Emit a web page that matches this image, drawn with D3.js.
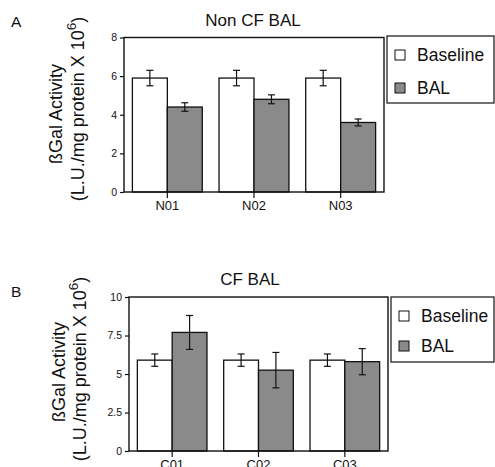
<!DOCTYPE html>
<html>
<head>
<meta charset="utf-8">
<script src="https://cdn.jsdelivr.net/npm/d3@7"></script>
<style>
  body { margin: 0; background: #fff; }
  text { font-family: "Liberation Sans", Arial, sans-serif; fill: #111; }
</style>
</head>
<body>
<div id="chart"></div>
<script>
// chart values
let seriesNames = ["Baseline", "BAL"];

let groupsA = ["N01", "N02", "N03"];
let baselineA = [5.9, 5.9, 5.9];
let baselineErrA = [0.4, 0.4, 0.4];
let balA = [4.4, 4.8, 3.6];
let balErrA = [0.22, 0.23, 0.18];
let ticksA = [0, 2, 4, 6, 8];

let groupsB = ["C01", "C02", "C03"];
let baselineB = [5.9, 5.9, 5.9];
let baselineErrB = [0.4, 0.4, 0.4];
let balB = [7.7, 5.25, 5.8];
let balErrB = [1.1, 1.15, 0.85];
let ticksB = [0, 2.5, 5, 7.5, 10];
let tickLabelsB = ["0", "2.5", "5", "7.5", "10"];

let colors = ["#ffffff", "#8a8a8a"];

let svgWidth = 495;
let svgHeight = 467;

let svg = d3.select("#chart")
    .append("svg")
    .attr("width", svgWidth)
    .attr("height", svgHeight);

function drawPanel(p) {
    let g = svg.append("g");

    // scales
    let x0 = d3.scaleBand()
        .domain(p.groups)
        .range([p.left, p.right])
        .padding(0);
    let x1 = d3.scaleBand()
        .domain(seriesNames)
        .range([0, x0.bandwidth()])
        .paddingInner(0)
        .paddingOuter(0.24);
    let y = d3.scaleLinear()
        .domain([0, p.ymax])
        .range([p.bottom, p.top]);

    let rows = p.groups.map((grp, i) => ({
        group: grp,
        values: [
            { name: seriesNames[0], v: p.base[i], e: p.baseErr[i], c: colors[0] },
            { name: seriesNames[1], v: p.bal[i], e: p.balErr[i], c: colors[1] }
        ]
    }));

    // bars
    let grp = g.selectAll("g.grp")
        .data(rows)
        .enter()
        .append("g")
        .attr("transform", d => `translate(${x0(d.group)},0)`);

    grp.selectAll("rect")
        .data(d => d.values)
        .enter()
        .append("rect")
        .attr("x", d => x1(d.name))
        .attr("y", d => y(d.v))
        .attr("width", x1.bandwidth())
        .attr("height", d => y(0) - y(d.v))
        .attr("fill", d => d.c)
        .attr("stroke", "#111")
        .attr("stroke-width", 1.3);

    // error bars
    let cap = 3.5;
    let eb = grp.selectAll("g.err")
        .data(d => d.values)
        .enter()
        .append("g")
        .attr("stroke", "#111")
        .attr("stroke-width", 1.2);
    eb.append("line")
        .attr("x1", d => x1(d.name) + x1.bandwidth() / 2)
        .attr("x2", d => x1(d.name) + x1.bandwidth() / 2)
        .attr("y1", d => y(d.v + d.e))
        .attr("y2", d => y(d.v - d.e));
    eb.append("line")
        .attr("x1", d => x1(d.name) + x1.bandwidth() / 2 - cap)
        .attr("x2", d => x1(d.name) + x1.bandwidth() / 2 + cap)
        .attr("y1", d => y(d.v + d.e))
        .attr("y2", d => y(d.v + d.e));
    eb.append("line")
        .attr("x1", d => x1(d.name) + x1.bandwidth() / 2 - cap)
        .attr("x2", d => x1(d.name) + x1.bandwidth() / 2 + cap)
        .attr("y1", d => y(d.v - d.e))
        .attr("y2", d => y(d.v - d.e));

    // frame
    g.append("rect")
        .attr("x", p.left)
        .attr("y", p.top)
        .attr("width", p.right - p.left)
        .attr("height", p.bottom - p.top)
        .attr("fill", "none")
        .attr("stroke", "#111")
        .attr("stroke-width", 1.4);

    // axes
    let leftAxis = d3.axisLeft(y)
        .tickValues(p.ticks)
        .tickFormat((d, i) => p.tickLabels[i])
        .tickSize(4)
        .tickPadding(3);
    let la = g.append("g")
        .attr("transform", `translate(${p.left},0)`)
        .call(leftAxis);
    la.select(".domain").remove();
    la.selectAll("line").attr("stroke", "#111").attr("stroke-width", 1.2);
    la.selectAll("text").style("font-size", "10.5px").attr("fill", "#111");

    let bottomAxis = d3.axisBottom(x0)
        .tickSize(6)
        .tickPadding(3);
    let ba = g.append("g")
        .attr("transform", `translate(0,${p.bottom})`)
        .call(bottomAxis);
    ba.select(".domain").remove();
    ba.selectAll("line").attr("stroke", "#111").attr("stroke-width", 1.2);
    ba.selectAll("text").style("font-size", "13px").attr("fill", "#111");

    // title
    g.append("text")
        .attr("x", p.titleX)
        .attr("y", p.titleY)
        .attr("text-anchor", "middle")
        .style("font-size", "17px")
        .text(p.title);

    // panel letter
    g.append("text")
        .attr("x", 11)
        .attr("y", p.letterY)
        .style("font-size", "15.5px")
        .text(p.letter);

    // y label, two lines
    g.append("text")
        .attr("transform", `translate(${p.labelX1},${p.labelY1}) rotate(-90)`)
        .attr("text-anchor", "middle")
        .style("font-size", "18px")
        .text("ßGal Activity");
    let l2 = g.append("text")
        .attr("transform", `translate(${p.labelX2},${p.labelY2}) rotate(-90)`)
        .attr("text-anchor", "middle")
        .style("font-size", "18px");
    l2.append("tspan").text("(L.U./mg protein X 10");
    l2.append("tspan").attr("dy", -8).style("font-size", "13.5px").text("6");
    l2.append("tspan").attr("dy", 8).text(")");

    // legend
    let lg = g.append("g");
    lg.append("rect")
        .attr("x", p.legX)
        .attr("y", p.legY)
        .attr("width", 494 - p.legX)
        .attr("height", p.legH)
        .attr("fill", "#fff")
        .attr("stroke", "#111")
        .attr("stroke-width", 1.2);
    seriesNames.forEach((name, i) => {
        let yy = p.legY + p.legFirst + i * p.legStep;
        lg.append("rect")
            .attr("x", p.legX + 8)
            .attr("y", yy)
            .attr("width", 10)
            .attr("height", 10)
            .attr("fill", colors[i])
            .attr("stroke", "#111")
            .attr("stroke-width", 1);
        lg.append("text")
            .attr("x", p.legX + 30)
            .attr("y", yy + 11)
            .style("font-size", "17.5px")
            .text(name);
    });
}

drawPanel({
    groups: groupsA, base: baselineA, baseErr: baselineErrA,
    bal: balA, balErr: balErrA, ticks: ticksA, tickLabels: ticksA.map(String),
    ymax: 8, left: 124, right: 384, top: 37.5, bottom: 192,
    title: "Non CF BAL", titleX: 253, titleY: 26, letter: "A", letterY: 27,
    labelX1: 62, labelY1: 114, labelX2: 84, labelY2: 109,
    legX: 387, legY: 36, legH: 67, legFirst: 14, legStep: 33
});

drawPanel({
    groups: groupsB, base: baselineB, baseErr: baselineErrB,
    bal: balB, balErr: balErrB, ticks: ticksB, tickLabels: tickLabelsB,
    ymax: 10, left: 129, right: 388, top: 297, bottom: 451,
    title: "CF BAL", titleX: 250, titleY: 285, letter: "B", letterY: 297,
    labelX1: 65, labelY1: 372, labelX2: 86, labelY2: 369,
    legX: 391, legY: 297, legH: 65, legFirst: 14, legStep: 30
});
</script>
</body>
</html>
